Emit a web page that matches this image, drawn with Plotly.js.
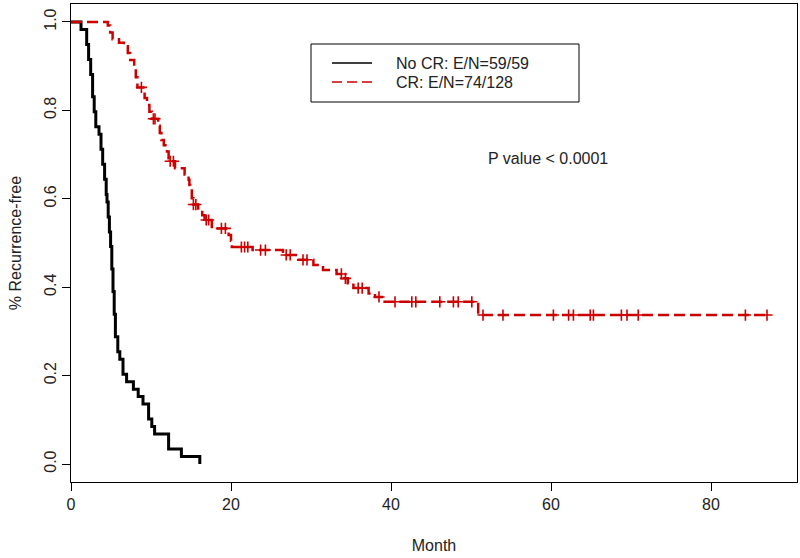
<!DOCTYPE html>
<html>
<head>
<meta charset="utf-8">
<script src="https://cdn.plot.ly/plotly-3.0.1.min.js"></script>
<style>html,body{margin:0;padding:0;background:#fff;}#chart{width:800px;height:558px;}</style>
</head>
<body>
<div id="chart"></div>
<script>
// ---- Data ----
// No CR group: Kaplan-Meier step points (month, survival)
var noCR_time = [0, 1.25, 1.96, 2.2, 2.46, 2.7, 2.9, 3.1, 3.5, 3.75, 3.96, 4.2, 4.4, 4.5, 4.65, 4.8, 4.95, 5.1, 5.25, 5.4, 5.55, 5.85, 6.1, 6.5, 6.95, 7.8, 8.4, 9.0, 9.7, 10.1, 10.45, 12.2, 13.8, 16.1];
var noCR_surv = [1, 0.983, 0.949, 0.915, 0.881, 0.831, 0.797, 0.763, 0.746, 0.712, 0.678, 0.644, 0.610, 0.593, 0.559, 0.525, 0.492, 0.441, 0.390, 0.339, 0.288, 0.254, 0.237, 0.203, 0.186, 0.169, 0.153, 0.136, 0.102, 0.085, 0.068, 0.034, 0.017, 0];

// CR group: Kaplan-Meier step points (month, survival)
var CR_time = [0, 4.6, 4.9, 5.2, 6.0, 6.6, 7.1, 7.4, 7.9, 8.1, 8.3, 9.2, 9.5, 9.8, 10.1, 10.9, 11.1, 11.3, 11.6, 12.0, 12.2, 13.0, 14.2, 14.7, 14.8, 14.9, 15.1, 15.3, 15.9, 16.4, 16.7, 17.6, 19.7, 20.0, 20.1, 22.7, 26.5, 28.4, 30.3, 31.5, 33.2, 34.0, 34.6, 35.3, 37.2, 38.0, 39.2, 50.9, 87.0];
var CR_surv = [1, 0.992, 0.976, 0.961, 0.953, 0.945, 0.930, 0.914, 0.898, 0.875, 0.852, 0.828, 0.812, 0.797, 0.781, 0.765, 0.749, 0.733, 0.721, 0.707, 0.685, 0.669, 0.655, 0.643, 0.631, 0.619, 0.601, 0.587, 0.575, 0.563, 0.552, 0.533, 0.518, 0.505, 0.491, 0.484, 0.473, 0.462, 0.450, 0.439, 0.430, 0.420, 0.409, 0.398, 0.386, 0.378, 0.367, 0.337, 0.337];

// CR group: censoring times (months)
var CR_cens_time = [8.8, 10.3, 10.5, 12.4, 12.8, 15.3, 15.6, 16.9, 17.2, 18.8, 19.3, 21.3, 21.7, 22.1, 23.7, 24.3, 26.9, 27.4, 29.0, 29.5, 33.8, 34.3, 35.9, 36.4, 38.5, 40.5, 42.6, 43.1, 46.1, 47.8, 48.4, 50.1, 51.5, 54.0, 60.3, 62.2, 62.8, 64.9, 65.3, 68.8, 69.5, 70.9, 84.3, 87.0];

var legend_labels = ["No CR: E/N=59/59", "CR: E/N=74/128"];
var pvalue_text = "P value < 0.0001";
var x_ticks = [0, 20, 40, 60, 80];
var y_ticks = [0.0, 0.2, 0.4, 0.6, 0.8, 1.0];

// survival value of a step curve at time t
function stepValue(times, surv, t) {
  var v = surv[0];
  for (var i = 0; i < times.length; i++) { if (times[i] <= t) v = surv[i]; }
  return v;
}
var CR_cens_surv = CR_cens_time.map(function (t) { return stepValue(CR_time, CR_surv, t); });

var RED = '#cc0000';
var FONT = '"Liberation Sans", Arial, sans-serif';

var traces = [
  {x: noCR_time, y: noCR_surv, type: 'scatter', mode: 'lines', line: {shape: 'hv', color: '#000', width: 3}, showlegend: false, hoverinfo: 'skip'},
  {x: CR_time, y: CR_surv, type: 'scatter', mode: 'lines', line: {shape: 'hv', color: RED, width: 2.5, dash: '11px,5px'}, showlegend: false, hoverinfo: 'skip'},
  {x: CR_cens_time, y: CR_cens_surv, type: 'scatter', mode: 'markers', marker: {symbol: 'cross-thin', size: 8, line: {color: RED, width: 1.6}}, showlegend: false, hoverinfo: 'skip'}
];

// plot area: left 71, right 797, top 4, bottom 482 (px)
var L = 71, R = 797, T = 4, B = 482;
function px(xp) { return (xp - L) / (R - L); }
function py(yp) { return (B - yp) / (B - T); }

var layout = {
  width: 800, height: 558,
  margin: {l: L, r: 800 - R, t: T, b: 558 - B, pad: 0},
  paper_bgcolor: '#fff', plot_bgcolor: '#fff',
  font: {family: FONT, size: 16, color: '#000'},
  showlegend: false,
  xaxis: {
    range: [0, 90.75], tickvals: x_ticks, ticks: 'outside', ticklen: 8, tickwidth: 1, tickcolor: '#000',
    showline: true, linecolor: '#000', linewidth: 1, mirror: true, showgrid: false, zeroline: false,
    tickfont: {family: FONT, size: 16, color: '#222'},
    title: {text: 'Month', font: {family: FONT, size: 16, color: '#222'}, standoff: 27}
  },
  yaxis: {
    range: [-0.0407, 1.0407], tickvals: y_ticks, tickformat: '.1f', ticks: 'outside', ticklen: 8, tickwidth: 1, tickcolor: '#000',
    tickangle: -90,
    showline: true, linecolor: '#000', linewidth: 1, mirror: true, showgrid: false, zeroline: false,
    tickfont: {family: FONT, size: 16, color: '#222'},
    title: {text: '% Recurrence-free', font: {family: FONT, size: 16, color: '#222'}, standoff: 15}
  },
  shapes: [
    {type: 'rect', xref: 'paper', yref: 'paper', x0: px(311), x1: px(579), y0: py(102), y1: py(44), line: {color: '#000', width: 1}, fillcolor: 'rgba(0,0,0,0)'},
    {type: 'line', xref: 'paper', yref: 'paper', x0: px(332), x1: px(372), y0: py(63), y1: py(63), line: {color: '#000', width: 1.5}},
    {type: 'line', xref: 'paper', yref: 'paper', x0: px(332), x1: px(372), y0: py(82), y1: py(82), line: {color: RED, width: 1.5, dash: '10px,5px'}}
  ],
  annotations: [
    {xref: 'paper', yref: 'paper', x: px(394), y: py(63), xanchor: 'left', yanchor: 'middle', text: legend_labels[0], showarrow: false, font: {family: FONT, size: 16, color: '#222'}},
    {xref: 'paper', yref: 'paper', x: px(394), y: py(82), xanchor: 'left', yanchor: 'middle', text: legend_labels[1], showarrow: false, font: {family: FONT, size: 16, color: '#222'}},
    {xref: 'paper', yref: 'paper', x: px(486), y: py(158), xanchor: 'left', yanchor: 'middle', text: pvalue_text, showarrow: false, font: {family: FONT, size: 16, color: '#222'}}
  ]
};

Plotly.newPlot('chart', traces, layout, {staticPlot: true, displayModeBar: false});
</script>
</body>
</html>
